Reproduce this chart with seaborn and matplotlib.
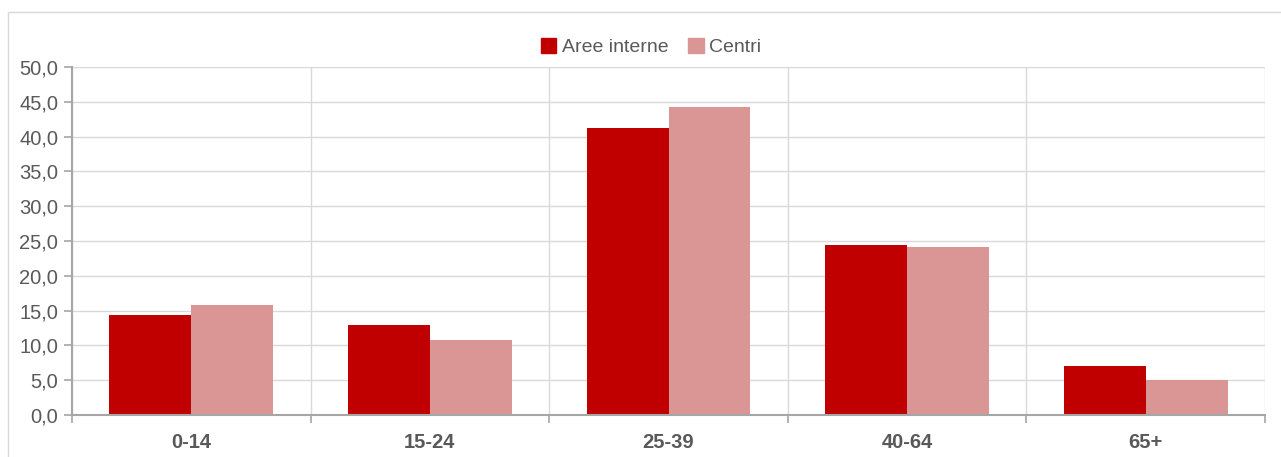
import matplotlib
matplotlib.use("Agg")
import matplotlib.pyplot as plt
import matplotlib.patches as mpatches
from matplotlib.ticker import FuncFormatter, MultipleLocator, FixedLocator
import pandas as pd
import seaborn as sns

age_groups = ["0-14", "15-24", "25-39", "40-64", "65+"]
aree_interne = [14.4, 12.9, 41.2, 24.4, 7.0]
centri = [15.8, 10.8, 44.2, 24.1, 5.0]
series_names = ["Aree interne", "Centri"]
colors = ["#C00000", "#D99694"]

df = pd.DataFrame({
    "group": age_groups * 2,
    "value": aree_interne + centri,
    "series": [series_names[0]] * len(age_groups) + [series_names[1]] * len(age_groups),
})

sns.set_theme(style="white")
plt.rcParams["font.family"] = ["Liberation Sans Narrow", "Liberation Sans", "DejaVu Sans"]
text_col = "#595959"
axis_col = "#A6A6A6"
grid_col = "#D9D9D9"

fig = plt.figure(figsize=(12.81, 4.57), dpi=100)
ax = fig.add_axes([72 / 1281, 1 - 415 / 457, (1265 - 72) / 1281, (415 - 67) / 457])

sns.barplot(data=df, x="group", y="value", hue="series", palette=colors,
            width=0.687, gap=0, saturation=1, linewidth=0, ax=ax, legend=False)

ax.set_xlim(-0.5, len(age_groups) - 0.5)
ax.set_ylim(0, 50)
ax.yaxis.set_major_locator(MultipleLocator(5))
ax.yaxis.set_major_formatter(FuncFormatter(lambda v, p: f"{v:.1f}".replace(".", ",")))
ax.xaxis.set_minor_locator(FixedLocator([i - 0.5 for i in range(len(age_groups) + 1)]))

ax.set_axisbelow(True)
ax.grid(axis="y", which="major", color=grid_col, lw=1)
ax.grid(axis="x", which="minor", color=grid_col, lw=1)

for s in ["top", "right"]:
    ax.spines[s].set_visible(False)
for s in ["left", "bottom"]:
    ax.spines[s].set_color(axis_col)
    ax.spines[s].set_linewidth(1.5)

ax.tick_params(axis="y", which="major", direction="out", length=6, width=1.2,
               color=axis_col, labelcolor=text_col, labelsize=14.5, left=True, pad=4)
ax.tick_params(axis="x", which="major", length=0, labelcolor=text_col, labelsize=14.5, pad=13)
ax.tick_params(axis="x", which="minor", direction="out", length=6, width=1.2,
               color=axis_col, bottom=True)
for lbl in ax.get_xticklabels():
    lbl.set_fontweight("bold")

ax.set_xlabel("")
ax.set_ylabel("")

handles = [mpatches.Patch(color=c, label=n) for c, n in zip(colors, series_names)]
fig.legend(handles=handles, loc="center", bbox_to_anchor=(651 / 1281, 1 - 47 / 457),
           ncol=2, frameon=False, fontsize=14, labelcolor=text_col,
           handlelength=0.8, handleheight=0.8, handletextpad=0.3, columnspacing=1.0)

border = mpatches.Rectangle((8 / 1281, -0.1), 1.2, 1 - 12 / 457 + 0.1,
                            transform=fig.transFigure, fill=False,
                            edgecolor="#D9D9D9", lw=1)
fig.patches.append(border)

fig.savefig("out.png", dpi=100)
